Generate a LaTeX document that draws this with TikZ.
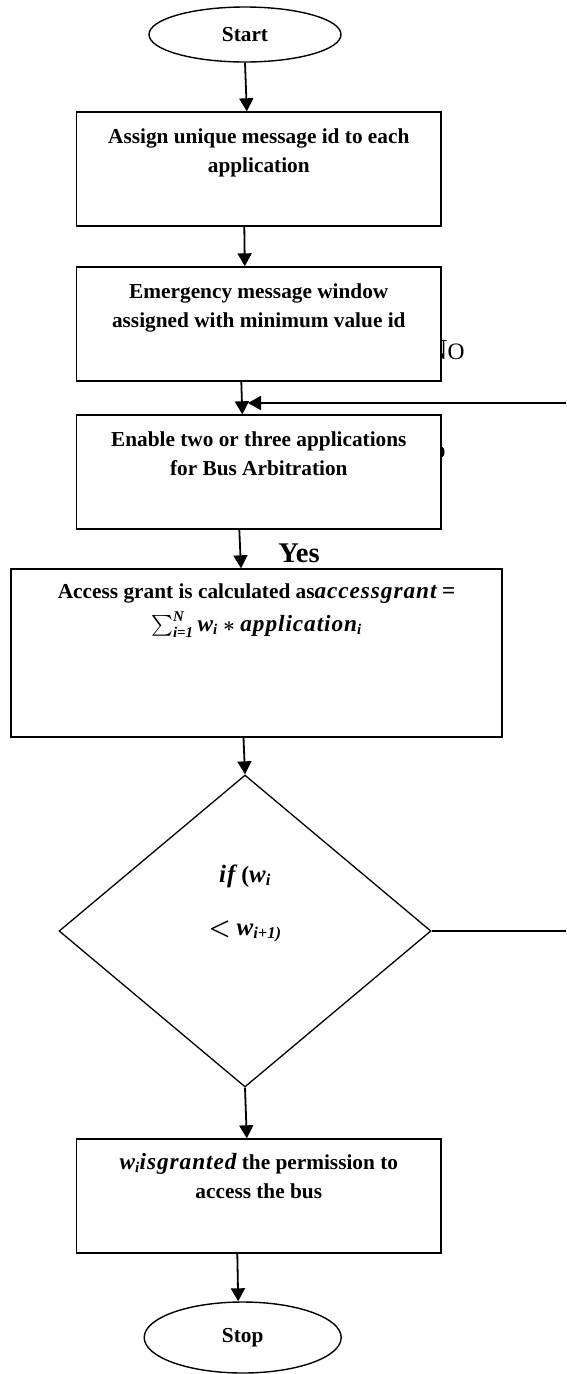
\documentclass[tikz,border=0pt]{standalone}
\usepackage{fontspec}
\setmainfont{Liberation Serif}
\usepackage{amsmath}
\usetikzlibrary{shapes.geometric,arrows.meta}
\newcommand{\ml}[1]{\begin{tabular}[t]{@{}c@{}}#1\end{tabular}}
\newcommand{\bi}[1]{\text{\bfseries\itshape #1}}
\newcommand{\bI}[1]{{\bfseries\itshape\fontsize{23.3}{29.5}\selectfont\addfontfeatures{LetterSpace=4}#1}}
\newcommand{\bD}[1]{{\bfseries\itshape\fontsize{25}{29.5}\selectfont\addfontfeatures{LetterSpace=4}#1}}
\begin{document}
\begin{tikzpicture}[x=1pt,y=-1pt,
  box/.style={draw, line width=1.4pt, fill=white, rectangle, inner sep=0pt,
    minimum width=364.5pt, font={\bfseries\boldmath\fontsize{21.3}{29.5}\selectfont}},
  term/.style={draw, ellipse, line width=1.4pt, fill=white, inner sep=0pt,
    font={\bfseries\fontsize{21.3}{25}\selectfont}},
  arr/.style={line width=1.8pt, -{Triangle[length=13pt,width=14pt]}},
  mtxt/.style={inner sep=0pt, anchor=base, font={\bfseries\boldmath\fontsize{23.5}{25}\selectfont}}]
\useasboundingbox (0,0) rectangle (566,1374);
% label partly hidden behind the box
\node[anchor=base west, inner sep=0pt] (no) at (426.5,359)
  {\fontsize{29}{30}\selectfont N\fontsize{23.5}{25}\selectfont O};
\node[term, minimum width=192pt, minimum height=55pt] (start) at (245,34.5) {Start};
\node[box, text height=31pt, text depth=83pt] (b1) at (258.8,169)
  {\ml{Assign unique message id to each\\application}};
\node[box, text height=31pt, text depth=83pt] (b2) at (258.8,324)
  {\ml{Emergency message window\\assigned with minimum value id}};
\node[box, text height=31pt, text depth=83pt] (b3) at (258.8,472)
  {\ml{Enable two or three applications\\for Bus Arbitration}};
\node[box, minimum width=491pt, text height=29pt, text depth=139pt] (b4) at (256.5,653)
  {\ml{Access grant is calculated as\bI{accessgrant} \bI{=}\\[4pt]
   $\sum_{\bi{i=1}}^{\bi{N}}\,$\bI{w}$_{\bi{i}}$ $*$ \bI{application}$_{\bi{i}}$}};
\node[diamond, draw, line width=1.3pt, inner sep=0pt, minimum width=372pt,
  minimum height=312pt] (d) at (245,931) {};
\node[mtxt] (dt1) at (245,882) {\bD{if} (\bD{w}$_{\bi{i}}$};
\node[mtxt] (dt2) at (245,935) {$<$ \bD{w}$_{\bi{i+1)}}$};
\node[box, text height=30pt, text depth=84pt] (b5) at (258.8,1196)
  {\ml{\bI{w}$_{\bi{i}}$\bI{isgranted} the permission to\\access the bus}};
\node[term, minimum width=197pt, minimum height=71pt] (stop) at (242.7,1337.5) {Stop};
\node[anchor=base, inner sep=0pt, font={\bfseries\fontsize{28.5}{30}\selectfont}] (yes) at (299,562) {Yes};
% connectors
\draw[arr] (start.south) -- ([xshift=-12pt]b1.north);
\draw[arr] ([xshift=-14.5pt]b1.south) -- ([xshift=-14pt]b2.north);
\draw[arr] ([xshift=-17.5pt]b2.south) -- ([xshift=-16.5pt]b3.north);
\draw[arr] ([xshift=-19.5pt]b3.south) -- ([xshift=-15.5pt]b4.north);
\draw[arr] ([xshift=-13pt]b4.south) -- (d.north);
\draw[arr] (d.south) -- ([xshift=-12pt]b5.north);
\draw[arr] ([xshift=-21.5pt]b5.south) -- ([xshift=-4.5pt]stop.north);
\coordinate (fbR) at (566,403);
\coordinate (fbT) at (248,403);
\draw[arr] (fbR) -- (fbT);
\coordinate (dR) at (566,931);
\draw[line width=1.6pt] (d.east) -- (dR);
% fragment at the edge of the third box
\fill (440.5,458) arc[start angle=90, end angle=-90, x radius=4, y radius=6] -- cycle;
\end{tikzpicture}
\end{document}
